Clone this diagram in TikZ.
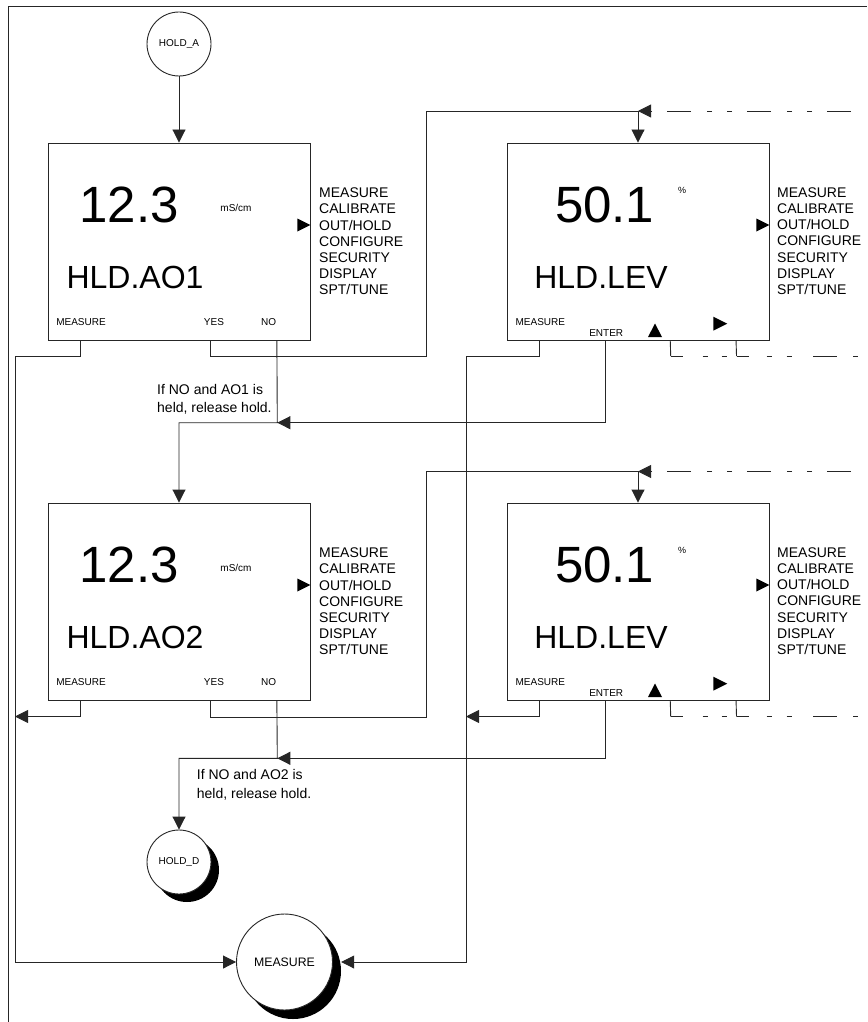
\documentclass[tikz,border=0pt]{standalone}
\usepackage{fontspec}
\setmainfont{Liberation Sans}
\usetikzlibrary{arrows.meta,calc}
\begin{document}
\begin{tikzpicture}[x=1pt,y=-1pt,
  conn/.style={draw=black!85, line width=0.9pt},
  conarr/.style={conn, -{Triangle[length=13pt,width=13pt]}},
  dashin/.style={conarr, dash pattern=on 24pt off 15pt on 5pt off 15pt on 5pt off 16pt, dash phase=64pt},
  dashA/.style={conn, dash pattern=on 12pt off 20pt on 5pt off 14pt on 5pt off 20pt},
  dashB/.style={conn, dash pattern=on 12pt off 18pt on 5pt off 15pt on 5pt off 21.5pt on 23.5pt off 16.5pt on 5pt off 30pt},
  scrbox/.style={draw=black!85, line width=0.9pt, rectangle, minimum width=262pt, minimum height=197pt, inner sep=0pt},
  bigval/.style={font=\fontsize{51}{51}\selectfont, inner sep=0pt, anchor=base},
  tagtxt/.style={font=\fontsize{32}{32}\selectfont, inner sep=0pt, anchor=base},
  menulist/.style={font=\fontsize{14}{16.2}\selectfont, align=left, inner sep=0pt, anchor=north west},
  softkey/.style={font=\fontsize{10}{10}\selectfont, inner sep=0pt, anchor=base},
  unitlbl/.style={font=\fontsize{10}{10}\selectfont, inner sep=0pt, anchor=base},
  notetxt/.style={font=\fontsize{14}{18.7}\selectfont, align=left, inner sep=0pt, anchor=north west},
  termc/.style={circle, draw=black!85, line width=0.9pt, fill=white, inner sep=0pt},
  shadc/.style={circle, fill=black, inner sep=0pt},
  glyph/.style={fill=black}
]
\useasboundingbox (0,0) rectangle (867,1022);
% frame
\draw[conn] (8,1022) -- (8,6.5) -- (867,6.5);

% terminals
\node[termc, minimum size=64pt, font=\fontsize{10}{10}\selectfont] (hA) at (179,44) {HOLD\_A};
\node[shadc, minimum size=64pt] (hDs) at (187,870) {};
\node[termc, minimum size=64pt, font=\fontsize{10}{10}\selectfont] (hD) at (179,862) {HOLD\_D};
\node[shadc, minimum size=96pt] (measS) at (293,971) {};
\node[termc, minimum size=96pt, font=\fontsize{12.3}{12.3}\selectfont] (meas) at (284.5,962) {MEASURE};

% screens
\node[scrbox] (b1) at (179,241.5) {};
\node[scrbox] (b2) at (179,601.5) {};
\node[scrbox] (b3) at (638,241.5) {};
\node[scrbox] (b4) at (638,601.5) {};

% screen 1 contents
\node[bigval] (b1v) at (129.2,222) {12.3};
\node[unitlbl] (b1u) at (236,211) {mS/cm};
\node[tagtxt] (b1t) at (135,288.3) {HLD.AO1};
\node[menulist] (b1l) at (319,187.8) {MEASURE\\CALIBRATE\\OUT/HOLD\\CONFIGURE\\SECURITY\\DISPLAY\\SPT/TUNE};
\node[softkey] (b1k1) at (81,325) {MEASURE};
\node[softkey] (b1k2) at (214,325) {YES};
\node[softkey] (b1k3) at (268.7,325) {NO};
\fill[glyph] ([yshift=16.5pt]b1.east) -- ++(-13,-6.5) -- ++(0,13) -- cycle;

% screen 2 contents
\node[bigval] (b2v) at (129.2,582) {12.3};
\node[unitlbl] (b2u) at (236,571) {mS/cm};
\node[tagtxt] (b2t) at (135,648.3) {HLD.AO2};
\node[menulist] (b2l) at (319,547.8) {MEASURE\\CALIBRATE\\OUT/HOLD\\CONFIGURE\\SECURITY\\DISPLAY\\SPT/TUNE};
\node[softkey] (b2k1) at (81,685) {MEASURE};
\node[softkey] (b2k2) at (214,685) {YES};
\node[softkey] (b2k3) at (268.7,685) {NO};
\fill[glyph] ([yshift=16.5pt]b2.east) -- ++(-13,-6.5) -- ++(0,13) -- cycle;

% screen 3 contents
\node[bigval] (b3v) at (604.7,222.7) {50.1};
\node[font=\fontsize{9}{9}\selectfont, inner sep=0pt] (b3u) at (682,190) {\%};
\node[tagtxt] (b3t) at (601,288.3) {HLD.LEV};
\node[menulist] (b3l) at (777,187.3) {MEASURE\\CALIBRATE\\OUT/HOLD\\CONFIGURE\\SECURITY\\DISPLAY\\SPT/TUNE};
\node[softkey] (b3k1) at (540.3,325) {MEASURE};
\node[softkey] (b3k2) at (606.2,336.7) {ENTER};
\fill[glyph] ([yshift=16.5pt]b3.east) -- ++(-13,-6.5) -- ++(0,13) -- cycle;
\fill[glyph] (655,323.5) -- (662,337) -- (648,337) -- cycle;
\fill[glyph] (727.3,323.7) -- (713.3,316.7) -- (713.3,330.7) -- cycle;

% screen 4 contents
\node[bigval] (b4v) at (604.7,582.7) {50.1};
\node[font=\fontsize{9}{9}\selectfont, inner sep=0pt] (b4u) at (682,550) {\%};
\node[tagtxt] (b4t) at (601,648.3) {HLD.LEV};
\node[menulist] (b4l) at (777,547.3) {MEASURE\\CALIBRATE\\OUT/HOLD\\CONFIGURE\\SECURITY\\DISPLAY\\SPT/TUNE};
\node[softkey] (b4k1) at (540.3,685) {MEASURE};
\node[softkey] (b4k2) at (606.2,696.7) {ENTER};
\fill[glyph] ([yshift=16.5pt]b4.east) -- ++(-13,-6.5) -- ++(0,13) -- cycle;
\fill[glyph] (655,683.5) -- (662,697) -- (648,697) -- cycle;
\fill[glyph] (727.3,683.7) -- (713.3,676.7) -- (713.3,690.7) -- cycle;

% notes
\node[notetxt] (n1) at (157,383.8) {If NO and AO1 is\\held, release hold.};
\node[notetxt] (n2) at (196.7,769.1) {If NO and AO2 is\\held, release hold.};

% leg coordinates
\coordinate (b1m) at ([xshift=32.7pt]b1.south west);
\coordinate (b1y) at ([xshift=163.3pt]b1.south west);
\coordinate (b1n) at ([xshift=229.3pt]b1.south west);
\coordinate (b2m) at ([xshift=32.7pt]b2.south west);
\coordinate (b2y) at ([xshift=163.3pt]b2.south west);
\coordinate (b2n) at ([xshift=229.3pt]b2.south west);
\coordinate (b3m) at ([xshift=33pt]b3.south west);
\coordinate (b3e) at ([xshift=98.7pt]b3.south west);
\coordinate (b3a) at ([xshift=163.7pt]b3.south west);
\coordinate (b3b) at ([xshift=229.5pt]b3.south west);
\coordinate (b4m) at ([xshift=33pt]b4.south west);
\coordinate (b4e) at ([xshift=98.7pt]b4.south west);
\coordinate (b4a) at ([xshift=163.7pt]b4.south west);
\coordinate (b4b) at ([xshift=229.5pt]b4.south west);
% junctions
\coordinate (jT1) at (638,111);
\coordinate (jT2) at (638,471.5);
\coordinate (eT1) at (867,111);
\coordinate (eT2) at (867,471.5);
\coordinate (jN1) at (277.3,422.7);
\coordinate (jN2) at (277.3,758.3);
\coordinate (tB) at (15,716.5);
\coordinate (tM) at (466,716.5);
\coordinate (c3a) at (670.7,356);
\coordinate (c3b) at (736.5,356);
\coordinate (e3) at (867,356);
\coordinate (c4a) at (670.7,716.5);
\coordinate (c4b) at (736.5,716.5);
\coordinate (e4) at (867,716.5);

% connectors row 1
\draw[conarr] (hA) -- (b1);
\draw[conarr] (b1m) -- ++(0,16) -| (15,962) -- (meas);
\draw[conarr] (b1y) -- ++(0,16) -| (426,111) -- (jT1) -- (b3);
\draw[dashin] (eT1) -- (jT1);
\draw[conarr] (b1n) -- (jN1) -| (b2);
\draw[conarr] (b3e) |- (jN1);
\draw[conarr] (b3m) -- ++(0,16) -| (466,962) -- (measS.east |- meas);
\draw[conn] (b3a) -- (c3a);
\draw[conn] (b3b) -- (c3b);
\draw[dashA] (c3a) -- (c3b);
\draw[dashB] (c3b) -- (e3);

% connectors row 2
\draw[conarr] (b2m) |- (tB);
\draw[conarr] (b2y) -- ++(0,16.5) -| (426,471.5) -- (jT2) -- (b4);
\draw[dashin] (eT2) -- (jT2);
\draw[conarr] (b2n) -- (jN2) -| (hD);
\draw[conarr] (b4e) |- (jN2);
\draw[conarr] (b4m) |- (tM);
\draw[conn] (b4a) -- (c4a);
\draw[conn] (b4b) -- (c4b);
\draw[dashA] (c4a) -- (c4b);
\draw[dashB] (c4b) -- (e4);
\end{tikzpicture}
\end{document}
